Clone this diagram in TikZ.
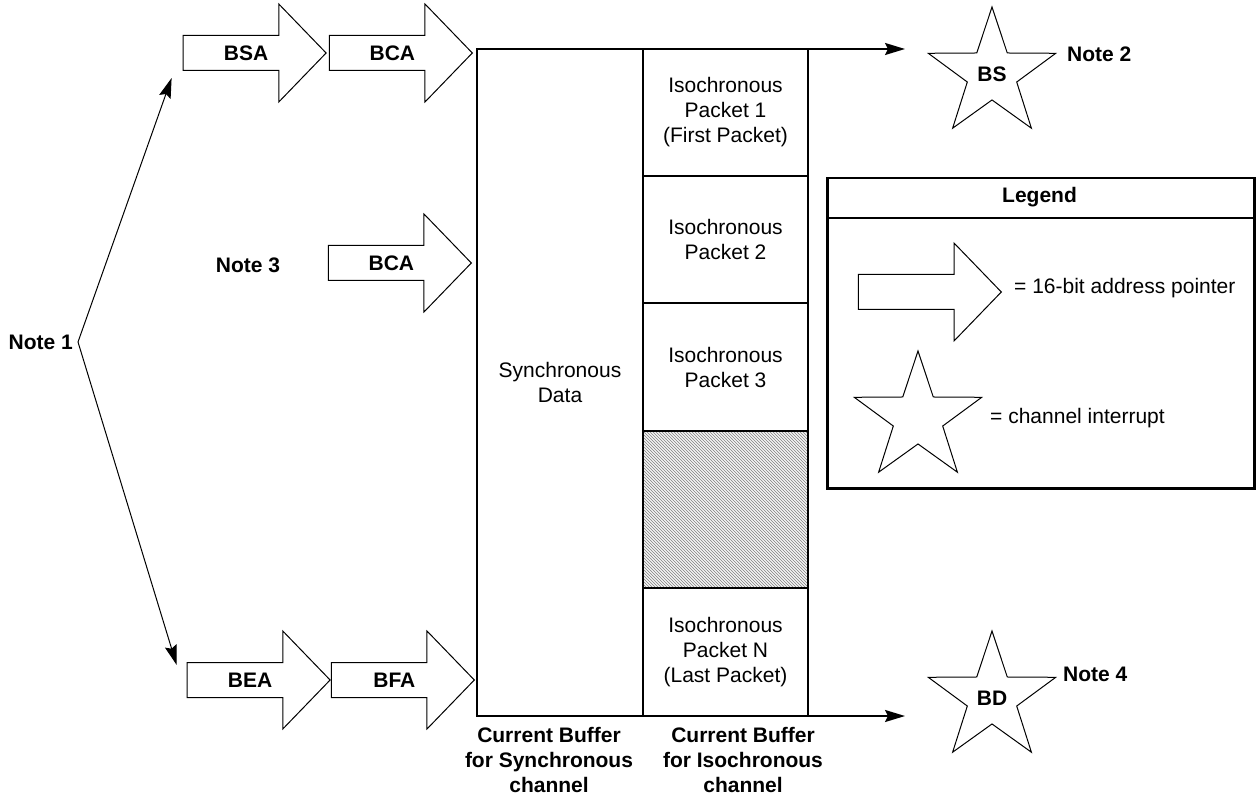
\documentclass[tikz,border=0pt]{standalone}
\usepackage{fontspec}
\setmainfont{Liberation Sans}
\usetikzlibrary{arrows.meta,positioning,shapes.geometric,shapes.arrows,patterns,calc}

\begin{document}
\begin{tikzpicture}[
  x=1pt, y=-1pt,
  font=\fontsize{21}{25}\selectfont,
  >={Stealth[length=20pt,width=12pt,inset=3pt]},
  pointer/.style={shape=single arrow, draw, fill=white, line width=1pt,
    single arrow head extend=31.5pt, single arrow tip angle=92,
    minimum height=143pt, text height=15pt, text depth=0pt,
    inner ysep=9.5pt, inner xsep=0pt, font=\fontsize{21}{25}\selectfont\bfseries},
  interrupt/.style={star, star points=5, star point ratio=2.58, minimum size=134pt,
    inner sep=0pt, draw, line width=1pt, font=\fontsize{21}{25}\selectfont\bfseries},
  cell/.style={draw, line width=2.5pt, minimum width=165pt, outer sep=0pt, inner sep=0pt, align=center},
  note/.style={inner sep=0pt, font=\fontsize{21}{25}\selectfont\bfseries}
]
\useasboundingbox (0,0) rectangle (1257,799);

% buffers
\node [cell, minimum width=166pt, minimum height=667pt, anchor=north west] (sync) at (477,49) {Synchronous\\Data};
\node [cell, minimum height=127pt, anchor=north west] (pk1) at (sync.north east) {Isochronous\\Packet 1\\(First Packet)};
\node [cell, minimum height=127pt, below=0pt of pk1] (pk2) {Isochronous\\Packet 2};
\node [cell, minimum height=128pt, below=0pt of pk2] (pk3) {Isochronous\\Packet 3};
\node [cell, minimum height=157pt, below=0pt of pk3, preaction={fill=gray!8}, pattern=north west lines, pattern color=gray] (unused) {};
\node [cell, minimum height=128pt, below=0pt of unused] (pkn) {Isochronous\\Packet N\\(Last Packet)};

\node [note, align=center] (synclabel) at (549,760) {Current Buffer\\for Synchronous\\channel};
\node [note, align=center] (isolabel) at (743,760) {Current Buffer\\for Isochronous\\channel};

% address pointers
\node [pointer, anchor=tip] (bca1) at ($(sync.north west)+(-4,4)$) {BCA};
\node [pointer, anchor=tip] (bsa) at ($(bca1.tail)+(-2,0)$) {BSA};
\node [pointer, anchor=tip] (bca2) at (472,263) {BCA};
\node [pointer, anchor=tip] (bfa) at ($(sync.south west)+(-2,-36)$) {BFA};
\node [pointer, anchor=tip] (bea) at (bfa.tail) {BEA};

% notes
\node [note, anchor=east] (note1) at (73,342) {Note 1};
\node [note] (note3) at (248,265) {Note 3};
\coordinate (fork) at ($(note1.east)+(5,0)$);
\draw [->, line width=1pt] (fork) -- ($(bsa.tail)+(-11,25)$);
\draw [->, line width=1pt] (fork) -- ($(bea.tail)+(-10,-15)$);

% interrupts
\node [interrupt] (bs) at (992,74) {BS};
\node [interrupt] (bd) at (992,698) {BD};
\node [note, anchor=west] (note2) at (1067,54) {Note 2};
\node [note, anchor=west] (note4) at (1063,674) {Note 4};
\coordinate (bsin) at (905,49);
\coordinate (bdin) at (905,716);
\draw [->, line width=2pt] (pk1.north east) -- (bsin);
\draw [->, line width=2pt] (pkn.south east) -- (bdin);

% legend
\node [draw, line width=2.5pt, minimum width=427pt, minimum height=310pt, inner sep=0pt, anchor=north west] (legend) at (826,177) {};
\draw [line width=2.5pt] ($(legend.north west)+(0,41)$) -- ($(legend.north east)+(0,41)$);
\node [note] (legendtitle) at (1039.5,197) {Legend};
\node [pointer, anchor=tip] (keyptr) at (1002,292) {};
\node [anchor=west, inner sep=0pt] (keyptrtext) at (1014,288) {= 16-bit address pointer};
\node [interrupt] (keystar) at (918,418) {};
\node [anchor=west, inner sep=0pt] (keystartext) at (990,418) {= channel interrupt};
\end{tikzpicture}
\end{document}
